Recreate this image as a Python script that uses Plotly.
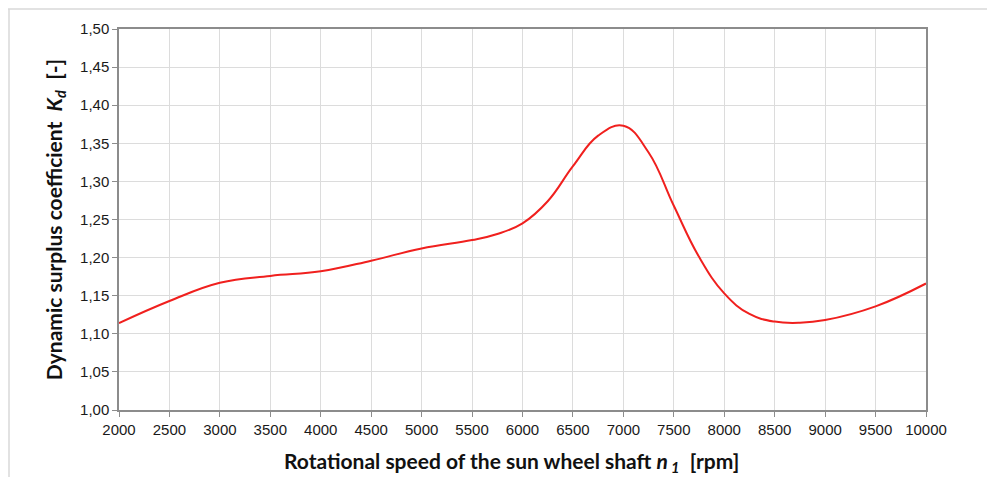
import plotly.graph_objects as go

speed_rpm = [2000, 2500, 3000, 3500, 4000, 4500, 5000, 5500, 5750, 6000, 6250, 6500, 6750, 7000,
             7250, 7500, 7750, 8000, 8250, 8500, 8750, 9000, 9500, 10000]
kd_values = [1.114, 1.143, 1.167, 1.176, 1.182, 1.196, 1.212, 1.223, 1.231, 1.245, 1.274, 1.320, 1.360, 1.373,
             1.338, 1.268, 1.201, 1.153, 1.126, 1.116, 1.1145, 1.118, 1.136, 1.166]

x_ticks = list(range(2000, 10001, 500))
y_ticks = [round(1.0 + 0.05 * i, 2) for i in range(11)]

fig = go.Figure()
fig.add_trace(go.Scatter(
    x=speed_rpm, y=kd_values, mode="lines",
    line=dict(color="#f0201e", width=2, shape="spline", smoothing=1.2),
    showlegend=False, hoverinfo="x+y"))

axis_common = dict(showline=True, linecolor="#8c8c8c", linewidth=1.5, mirror=True,
                   showgrid=True, gridcolor="#dcdcdc", gridwidth=1,
                   ticks="outside", ticklen=5, tickcolor="#8c8c8c", zeroline=False,
                   tickfont=dict(family="Liberation Sans, Arial, sans-serif", size=15, color="#1a1a1a"))

# plot area: fig px 111..918 horizontally, 21..402 vertically (page has 7-8px body offset)
L, R, T, B = 111, 77, 21, 75
PW, PH = 995 - L - R, 477 - T - B

fig.update_layout(
    width=995, height=477,
    margin=dict(l=L, r=R, t=T, b=B, autoexpand=False),
    paper_bgcolor="white", plot_bgcolor="white",
    separators=", ",
    xaxis=dict(range=[2000, 10000], tickvals=x_ticks, tickformat="d", **axis_common),
    yaxis=dict(range=[1.0, 1.5], tickvals=y_ticks, tickformat=".2f",
               title=dict(text="<b>Dynamic surplus coefficient&nbsp;&nbsp;<i>K<sub>d</sub></i>&nbsp;&nbsp;[-]</b>",
                          font=dict(family="Lato, Open Sans, sans-serif", size=21, color="#111111"),
                          standoff=12),
               **axis_common),
    annotations=[dict(text="<b>Rotational speed of the sun wheel shaft <i>n<sub>&nbsp;1</sub></i>&nbsp;&nbsp;[rpm]</b>",
                      xref="paper", yref="paper", x=(510 - 7 - L) / PW, y=-(462 - 8 - (T + PH)) / PH,
                      xanchor="center", yanchor="middle", showarrow=False,
                      font=dict(family="Lato, Open Sans, sans-serif", size=21, color="#111111"))],
    shapes=[
        dict(type="line", xref="paper", yref="paper", x0=-L / PW, x1=1 + R / PW, y0=1 + (T - 1) / PH, y1=1 + (T - 1) / PH,
             line=dict(color="#d9d9d9", width=1.5)),
        dict(type="line", xref="paper", yref="paper", x0=-(L - 1) / PW, x1=-(L - 1) / PW, y0=-B / PH, y1=1 + (T - 1) / PH,
             line=dict(color="#d9d9d9", width=1.5)),
    ],
)

fig.write_html("out.html")
